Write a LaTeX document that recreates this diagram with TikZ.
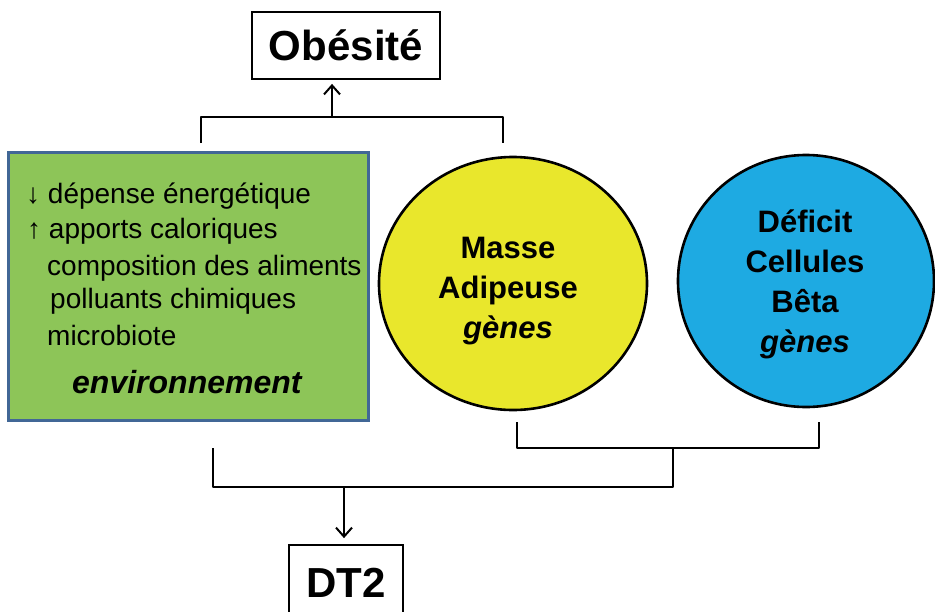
\documentclass[tikz,border=0pt]{standalone}
\usepackage{fontspec}
\setmainfont{Liberation Sans}
\usetikzlibrary{arrows.meta,shapes.geometric}
\definecolor{envgreen}{RGB}{141,197,88}
\definecolor{envborder}{RGB}{65,103,150}
\definecolor{adipyellow}{RGB}{233,231,44}
\definecolor{betablue}{RGB}{30,170,226}

\begin{document}
\begin{tikzpicture}[x=1pt,y=-1pt,
    >={Straight Barb[length=9pt,width=16pt]},
    lien/.style={line width=2pt,line join=round},
    cadre/.style={draw,line width=1.8pt,inner sep=0pt,font=\fontsize{42}{42}\selectfont\bfseries},
    bulle/.style={ellipse,draw,line width=2.6pt,inner sep=0pt},
    bulletxt/.style={align=center,inner sep=0pt,font=\fontsize{31}{40}\selectfont\bfseries},
    item/.style={anchor=base west,inner sep=0pt,font=\fontsize{28}{28}\selectfont}]
      \useasboundingbox (0,0) rectangle (935,611);
      \clip (0,0) rectangle (935,611);
      % boxes
      \node[cadre,minimum width=188pt,minimum height=67pt] (obes) at (346,45.5) {Obésité};
      \node[cadre,minimum width=114pt,minimum height=76pt] (dt2) at (346,583) {DT2};
      % environment
      \node[draw=envborder,fill=envgreen,line width=3pt,minimum width=360pt,minimum height=268pt] (env) at (188,286) {};
      \node[item] (l1) at (26,203) {↓ dépense énergétique};
      \node[item] (l2) at (27,238) {↑ apports caloriques};
      \node[item] (l3) at (47,275) {composition des aliments};
      \node[item] (l4) at (50,308) {polluants chimiques};
      \node[item] (l5) at (47,345) {microbiote};
      \node[item,font=\fontsize{32}{32}\selectfont\bfseries\itshape] (l6) at (72,393) {environnement};
      % circles
      \node[bulle,fill=adipyellow,minimum width=268pt,minimum height=253pt] (masse) at (513,283.5) {};
      \node[bulletxt] (massetxt) at (508,291) {Masse\\Adipeuse\\\itshape gènes};
      \node[bulle,fill=betablue,minimum width=256pt,minimum height=252pt] (beta) at (806,281) {};
      \node[bulletxt] (betatxt) at (805,284) {Déficit\\Cellules\\Bêta\\\itshape gènes};
      % top bracket
      \coordinate (hautG) at (201,143);
      \coordinate (hautD) at (503,143);
      \coordinate (hautM) at (332,117);
      \draw[lien] (hautG) |- (hautM) -| (hautD);
      \draw[lien,->,shorten >=4pt] (hautM) -- (hautM |- obes.south);
      % bottom brackets
      \coordinate (basA) at (517,422);
      \coordinate (basB) at (819,422);
      \coordinate (basM) at (673,448);
      \coordinate (grandG) at (213,448);
      \coordinate (grandM) at (344,487);
      \draw[lien] (basA) |- (basM) -| (basB);
      \draw[lien] (grandG) |- (grandM) -| (basM);
      \draw[lien,->,shorten >=6pt] (grandM) -- (grandM |- dt2.north);
\end{tikzpicture}
\end{document}
